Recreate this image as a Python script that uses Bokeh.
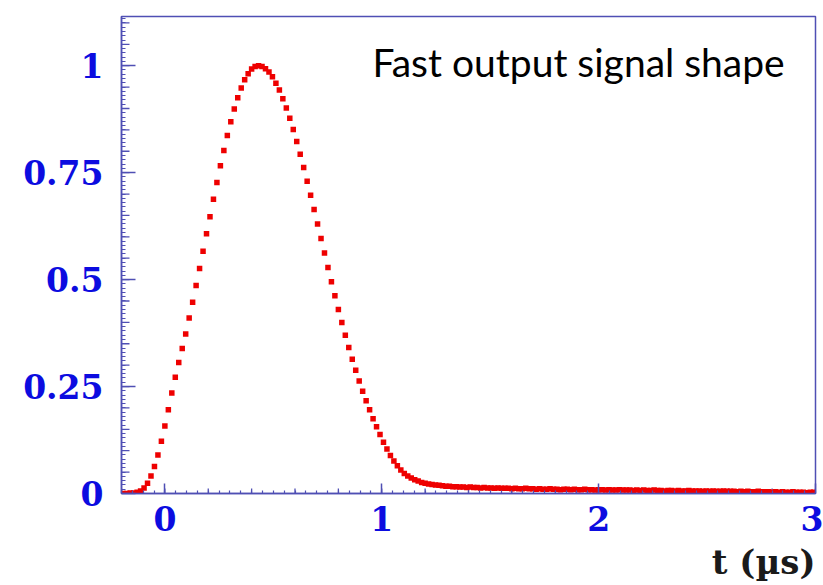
import numpy as np
from bokeh.plotting import figure
from bokeh.models import (FixedTicker, Range1d, Label, Title)
from bokeh.embed import file_html
from bokeh.resources import INLINE

# Bin centres of the pulse histogram (microseconds)
t_us = [
    -0.192, -0.176, -0.160, -0.144, -0.128, -0.112, -0.096, -0.080, -0.064, -0.048,
    -0.032, -0.016, 0.000, 0.016, 0.032, 0.048, 0.064, 0.080, 0.096, 0.112,
    0.128, 0.144, 0.160, 0.176, 0.192, 0.208, 0.224, 0.240, 0.256, 0.272,
    0.288, 0.304, 0.320, 0.336, 0.352, 0.368, 0.384, 0.400, 0.416, 0.432,
    0.448, 0.464, 0.480, 0.496, 0.512, 0.528, 0.544, 0.560, 0.576, 0.592,
    0.608, 0.624, 0.640, 0.656, 0.672, 0.688, 0.704, 0.720, 0.736, 0.752,
    0.768, 0.784, 0.800, 0.816, 0.832, 0.848, 0.864, 0.880, 0.896, 0.912,
    0.928, 0.944, 0.960, 0.976, 0.992, 1.008, 1.024, 1.040, 1.056, 1.072,
    1.088, 1.104, 1.120, 1.136, 1.152, 1.168, 1.184, 1.200, 1.216, 1.232,
    1.248, 1.264, 1.280, 1.296, 1.312, 1.328, 1.344, 1.360, 1.376, 1.392,
    1.408, 1.424, 1.440, 1.456, 1.472, 1.488, 1.504, 1.520, 1.536, 1.552,
    1.568, 1.584, 1.600, 1.616, 1.632, 1.648, 1.664, 1.680, 1.696, 1.712,
    1.728, 1.744, 1.760, 1.776, 1.792, 1.808, 1.824, 1.840, 1.856, 1.872,
    1.888, 1.904, 1.920, 1.936, 1.952, 1.968, 1.984, 2.000, 2.016, 2.032,
    2.048, 2.064, 2.080, 2.096, 2.112, 2.128, 2.144, 2.160, 2.176, 2.192,
    2.208, 2.224, 2.240, 2.256, 2.272, 2.288, 2.304, 2.320, 2.336, 2.352,
    2.368, 2.384, 2.400, 2.416, 2.432, 2.448, 2.464, 2.480, 2.496, 2.512,
    2.528, 2.544, 2.560, 2.576, 2.592, 2.608, 2.624, 2.640, 2.656, 2.672,
    2.688, 2.704, 2.720, 2.736, 2.752, 2.768, 2.784, 2.800, 2.816, 2.832,
    2.848, 2.864, 2.880, 2.896, 2.912, 2.928, 2.944, 2.960, 2.976, 2.992,
]

# Normalised fast output amplitude per bin
amplitude = [
    0.000, 0.000, 0.001, 0.001, 0.003, 0.006, 0.013, 0.024, 0.041, 0.063,
    0.090, 0.122, 0.158, 0.196, 0.235, 0.272, 0.306, 0.339, 0.373, 0.410,
    0.447, 0.486, 0.526, 0.566, 0.607, 0.647, 0.688, 0.727, 0.766, 0.802,
    0.837, 0.869, 0.899, 0.925, 0.948, 0.967, 0.981, 0.992, 0.998, 1.000,
    0.998, 0.993, 0.985, 0.974, 0.959, 0.943, 0.923, 0.901, 0.877, 0.851,
    0.823, 0.793, 0.762, 0.730, 0.697, 0.664, 0.630, 0.596, 0.562, 0.528,
    0.495, 0.462, 0.430, 0.400, 0.370, 0.341, 0.314, 0.288, 0.263, 0.239,
    0.217, 0.196, 0.175, 0.156, 0.138, 0.120, 0.104, 0.089, 0.076, 0.065,
    0.055, 0.047, 0.041, 0.036, 0.032, 0.029, 0.026, 0.024, 0.022, 0.021,
    0.020, 0.019, 0.018, 0.017, 0.017, 0.016, 0.016, 0.015, 0.015, 0.014,
    0.015, 0.014, 0.014, 0.013, 0.014, 0.013, 0.013, 0.012, 0.013, 0.012,
    0.012, 0.012, 0.011, 0.012, 0.011, 0.011, 0.012, 0.011, 0.011, 0.010,
    0.011, 0.010, 0.010, 0.011, 0.010, 0.010, 0.009, 0.010, 0.010, 0.009,
    0.010, 0.009, 0.009, 0.010, 0.009, 0.009, 0.008, 0.009, 0.009, 0.008,
    0.009, 0.008, 0.008, 0.009, 0.008, 0.008, 0.008, 0.007, 0.008, 0.007,
    0.008, 0.007, 0.007, 0.008, 0.007, 0.007, 0.006, 0.007, 0.007, 0.006,
    0.007, 0.006, 0.006, 0.007, 0.006, 0.006, 0.006, 0.005, 0.006, 0.005,
    0.006, 0.005, 0.005, 0.006, 0.005, 0.005, 0.005, 0.004, 0.005, 0.004,
    0.005, 0.004, 0.004, 0.005, 0.004, 0.004, 0.004, 0.003, 0.004, 0.003,
    0.004, 0.003, 0.003, 0.004, 0.003, 0.003, 0.003, 0.002, 0.003, 0.003,
]

# Axis ticks and labels
x_major = [0, 1, 2, 3]
x_tick_labels = ["0", "1", "2", "3"]
y_major = [0, 0.25, 0.5, 0.75, 1.0]
y_tick_labels = ["0", "0.25", "0.5", "0.75", "1"]

X_START, X_END = -0.2, 3.0
Y_START, Y_END = 0.0, 1.115
FRAME_W, FRAME_H = 694, 477

x_medium = [round(v, 3) for v in np.arange(-0.2, 3.001, 0.2)]
x_minor = [round(v, 3) for v in np.arange(-0.2, 3.001, 0.05)]
y_medium = [round(v, 3) for v in np.arange(0.0, 1.1001, 0.05)]
y_minor = [round(v, 3) for v in np.arange(0.0, 1.1101, 0.01)]

AXIS_COLOR = "#4f4fb4"
LABEL_COLOR = "#0c0ce0"

p = figure(
    frame_width=FRAME_W, frame_height=FRAME_H,
    x_range=Range1d(X_START, X_END), y_range=Range1d(Y_START, Y_END),
    output_backend="svg", toolbar_location=None,
    min_border_left=121, min_border_top=16, min_border_right=8,
    min_border_bottom=92,
    background_fill_color="white", border_fill_color="white",
)
p.grid.visible = False
p.outline_line_color = AXIS_COLOR
p.outline_line_width = 1.5

# pixel-scaled helper ranges used for the mid-length tick marks
p.extra_y_ranges = {"py": Range1d(0, FRAME_H)}
p.extra_x_ranges = {"px": Range1d(0, FRAME_W)}

for ax, major, labels, minor, tick_len, minor_len in (
    (p.xaxis[0], x_major, x_tick_labels, x_minor, 10, 3),
    (p.yaxis[0], y_major, y_tick_labels, y_minor, 14, 4),
):
    ax.ticker = FixedTicker(ticks=major, minor_ticks=minor)
    ax.major_label_overrides = {v: s for v, s in zip(major, labels)}
    ax.axis_line_color = AXIS_COLOR
    ax.axis_line_width = 1.5
    ax.major_tick_line_color = AXIS_COLOR
    ax.minor_tick_line_color = AXIS_COLOR
    ax.major_tick_line_width = 1.5
    ax.minor_tick_line_width = 1.2
    ax.major_tick_in = tick_len
    ax.major_tick_out = 0
    ax.minor_tick_in = minor_len
    ax.minor_tick_out = 0
    ax.major_label_text_font = "DejaVu Serif"
    ax.major_label_text_font_style = "bold"
    ax.major_label_text_font_size = "33px"
    ax.major_label_text_color = LABEL_COLOR

p.xaxis[0].major_label_standoff = 12
p.yaxis[0].major_label_standoff = 18

# mid-length ticks (every 0.2 on t, every 0.05 on amplitude)
p.segment(x0=x_medium, x1=x_medium, y0=[0] * len(x_medium), y1=[5] * len(x_medium),
          y_range_name="py", line_color=AXIS_COLOR, line_width=1.3)
p.segment(x0=[0] * len(y_medium), x1=[8] * len(y_medium), y0=y_medium, y1=y_medium,
          x_range_name="px", line_color=AXIS_COLOR, line_width=1.3)

# the pulse samples
p.scatter(t_us, amplitude, marker="square", size=5.5, color="#ee0000", line_width=0)

p.add_layout(Label(x=0.957, y=1.008, text="Fast output signal shape",
                   text_font="Lato", text_font_size="39px", text_color="black",
                   text_baseline="alphabetic"))

p.add_layout(Title(text="t (\u00b5s)", align="right", text_font="DejaVu Serif",
                   text_font_style="bold", text_font_size="34px",
                   text_color="#1a1a1a", offset=0, standoff=12), "below")

open("out.html", "w").write(file_html(p, INLINE))
